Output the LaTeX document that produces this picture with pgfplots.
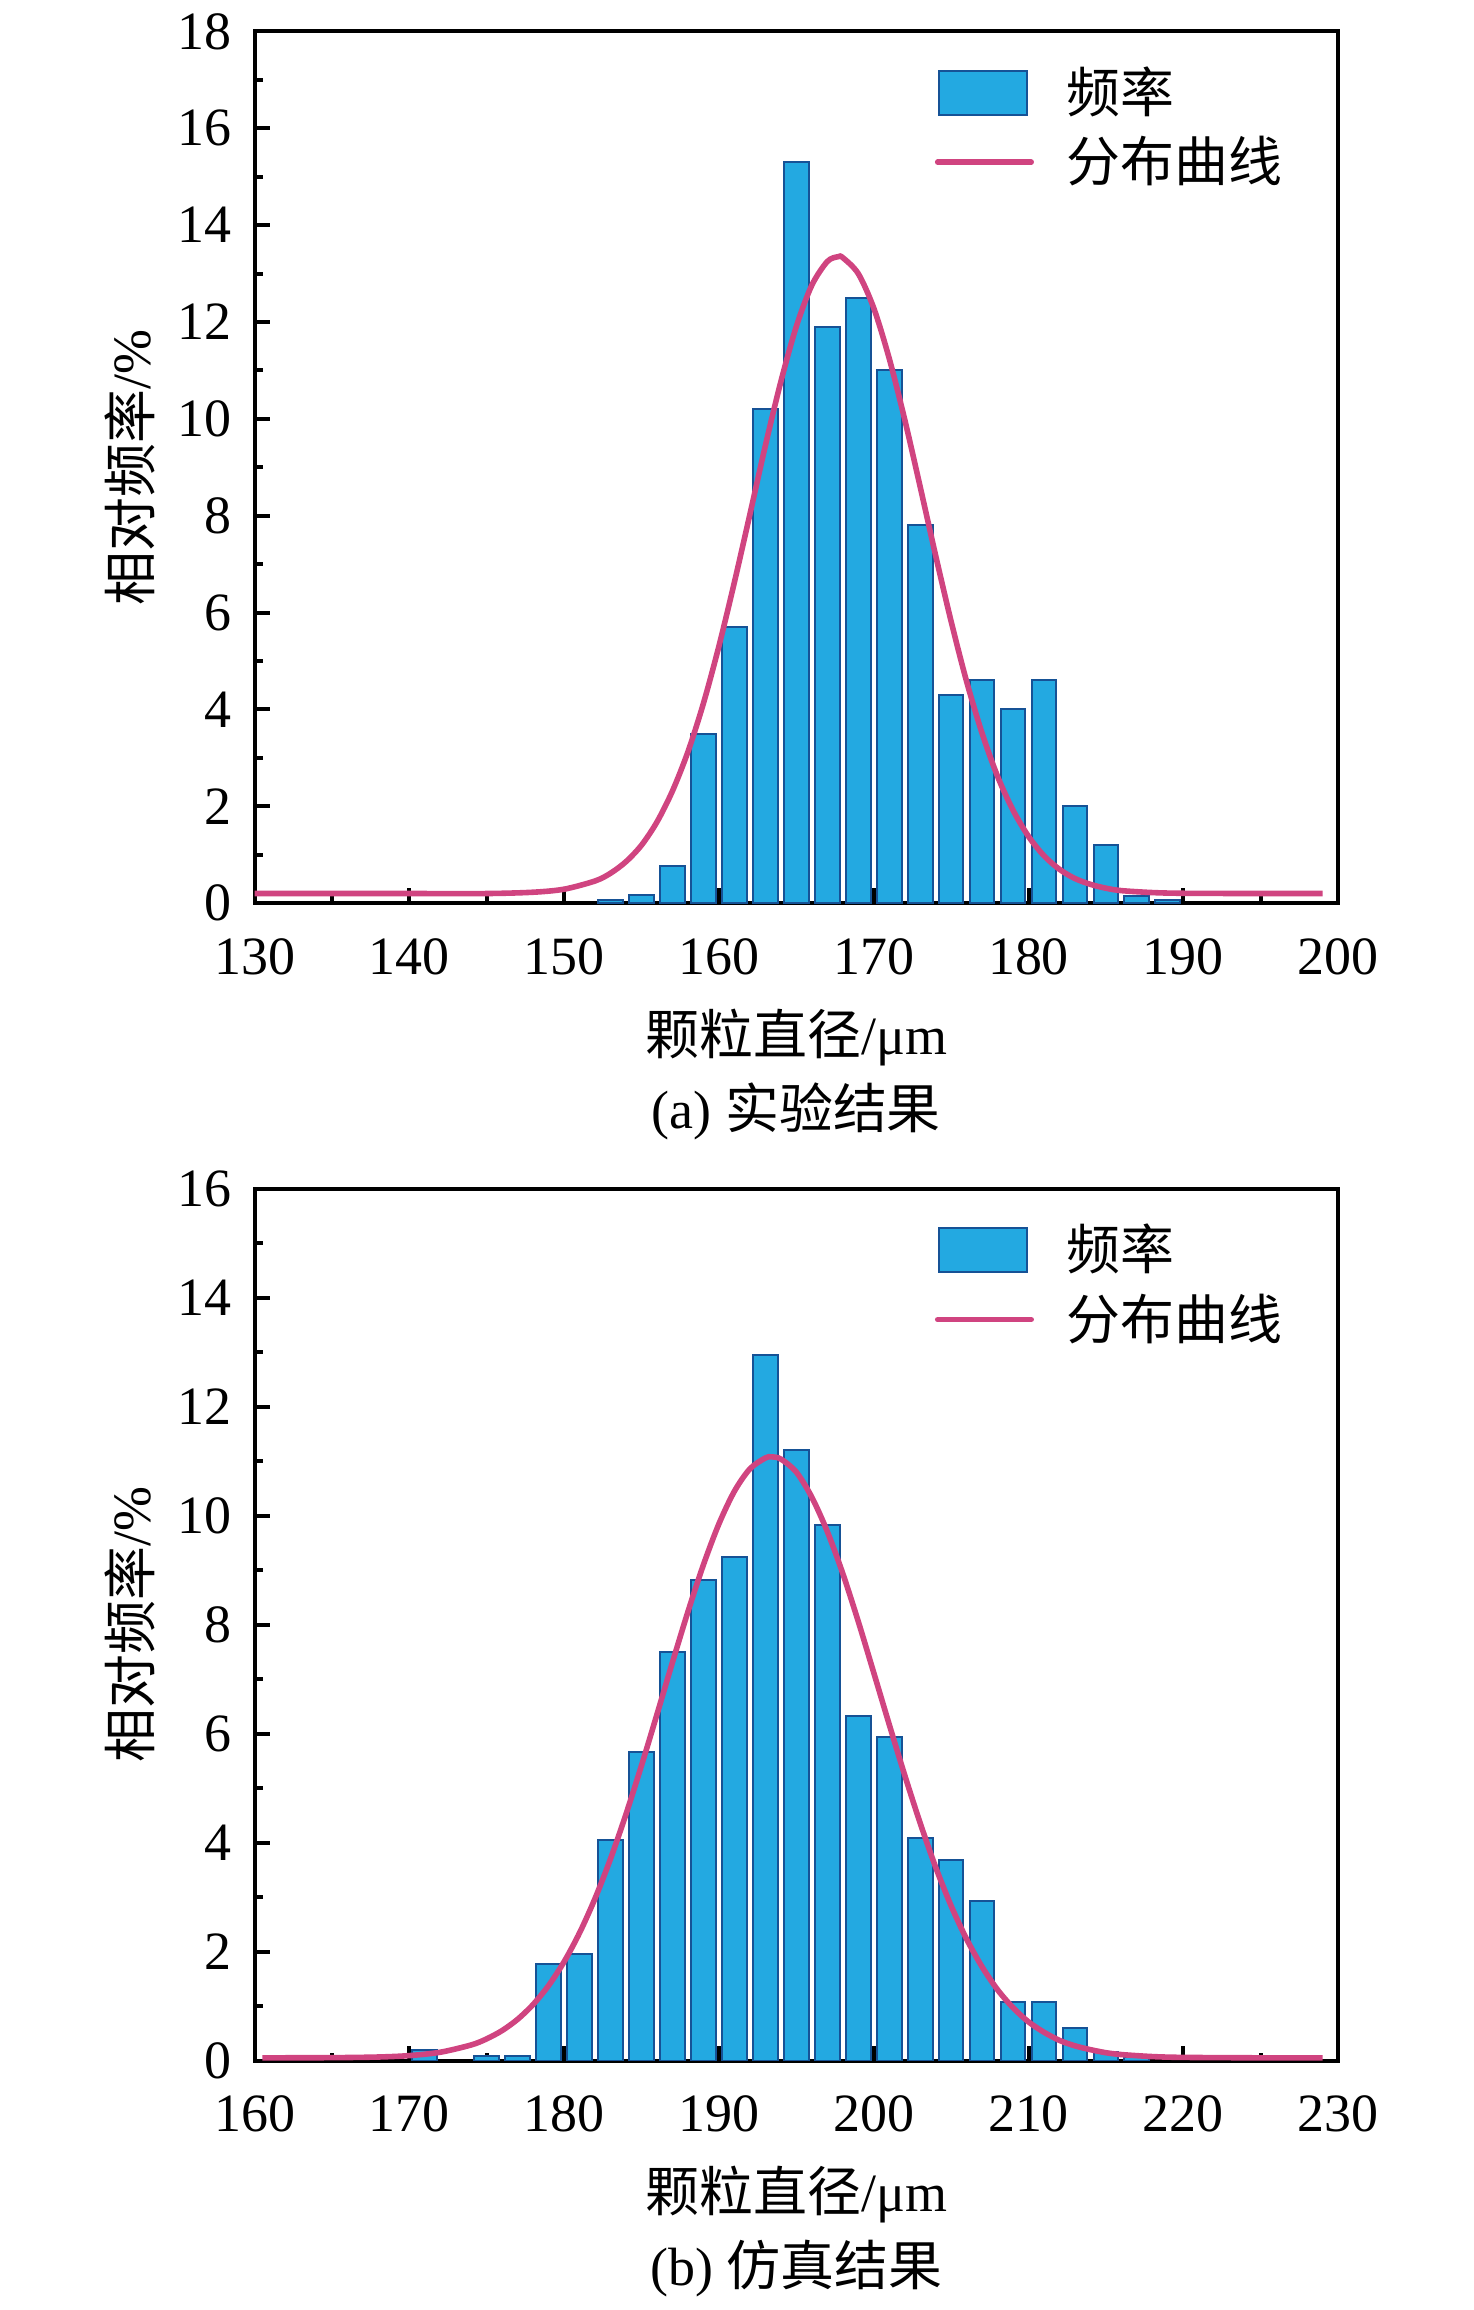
\documentclass[border=0pt]{standalone}
\usepackage{fontspec}
\setmainfont{Liberation Serif}
\newfontfamily\cjk{Noto Sans CJK SC}
\usepackage{pgfplots}
\pgfplotsset{compat=1.18}
\definecolor{barfill}{RGB}{35,169,225}
\definecolor{baredge}{RGB}{22,82,150}
\definecolor{curvecol}{RGB}{208,68,128}
\newcommand{\fs}{\fontsize{13.5}{16}\selectfont}
\pgfplotsset{
  histo/.style={
    scale only axis, width=271.25pt, height=218.25pt,
    line width=1pt,
    minor x tick num=1, minor y tick num=1,
    tick align=inside, xtick pos=left, ytick pos=left,
    major tick length=3.75pt, minor tick length=2pt,
    every tick/.append style={black, line width=1pt},
    /pgf/number format/assume math mode=true,
    tick label style={font=\fs},
    xticklabel style={yshift=-5pt},
    yticklabel style={xshift=-2pt},
    ylabel={{\cjk 相对频率}/\%},
    ylabel style={at={(axis description cs:-0.115,0.5)}, anchor=center, font=\fs},
    legend style={at={(axis description cs:0.615,0.98)}, anchor=north west, draw=none, fill=none, font=\fs, row sep=0.5pt},
    legend cell align=left,
  },
  barleg/.style={legend image code/.code={\draw[fill=barfill,draw=baredge,line width=0.5pt] (-4.8pt,-5.5pt) rectangle (17.2pt,5.5pt); \path (24.4pt,0pt);}},
  lineleg/.style={legend image code/.code={\draw[curvecol,line width=1.4pt,line cap=round] (-5.2pt,0pt) -- (18.2pt,0pt); \path (24.4pt,0pt);}},
}
\begin{document}
\begin{tikzpicture}[font=\fs]
\path (-63.75pt,-62pt) rectangle (305.25pt,515.5pt);
% ---------- (a) ----------
\begin{axis}[histo, at={(0pt,289.75pt)}, anchor=south west,
  xmin=130, xmax=200, ymin=0, ymax=18,
  xtick={130,140,...,200}, ytick={0,2,...,18}]
\addplot[ybar, bar width=1.6, bar shift=0pt, fill=barfill, draw=baredge, line width=0.5pt, barleg] coordinates {
(153,0.07) (155,0.16) (157,0.76) (159,3.5) (161,5.7) (163,10.2) (165,15.3) (167,11.9) (169,12.5) (171,11.0)
(173,7.8) (175,4.3) (177,4.6) (179,4.0) (181,4.6) (183,2.0) (185,1.2) (187,0.14) (189,0.07)};
\addlegendentry{{\cjk 频率}}
\addplot[curvecol, line width=1.4pt, smooth, lineleg] coordinates {
(130,0.2) (140,0.2) (145,0.2) (148,0.227) (150,0.29) (152,0.46) (153,0.62) (154,0.86) (155,1.20) (156,1.68)
(157,2.32) (158,3.13) (159,4.13) (160,5.31) (161,6.63) (162,8.03) (163,9.45) (164,10.77) (165,11.91) (166,12.76)
(167,13.25) (167.7,13.35) (168,13.33) (169,13.00) (170,12.29) (171,11.25) (172,9.99) (173,8.60) (174,7.18) (175,5.82)
(176,4.58) (177,3.51) (178,2.62) (179,1.92) (180,1.38) (181,0.98) (182,0.70) (183,0.51) (184,0.39) (185,0.31)
(186,0.26) (188,0.22) (190,0.205) (195,0.2) (199,0.2)};
\addlegendentry{{\cjk 分布曲线}}
\end{axis}
\node at (135.625pt,256pt) {{\cjk 颗粒直径}/μm};
\node at (135.625pt,237.75pt) {(a) {\cjk 实验结果}};
% ---------- (b) ----------
\begin{axis}[histo, at={(0pt,0pt)}, anchor=south west,
  xmin=160, xmax=230, ymin=0, ymax=16,
  xtick={160,170,...,230}, ytick={0,2,...,16}]
\addplot[ybar, bar width=1.6, bar shift=0pt, fill=barfill, draw=baredge, line width=0.5pt, barleg] coordinates {
(171,0.2) (175,0.08) (177,0.08) (179,1.77) (181,1.96) (183,4.05) (185,5.66) (187,7.5) (189,8.82) (191,9.25)
(193,12.95) (195,11.2) (197,9.83) (199,6.32) (201,5.93) (203,4.09) (205,3.68) (207,2.93) (209,1.07) (211,1.07)
(213,0.6) (215,0.15) (217,0.07)};
\addlegendentry{{\cjk 频率}}
\addplot[curvecol, line width=1.4pt, smooth, lineleg] coordinates {
(160.5,0.05) (165,0.053) (168,0.065) (170,0.091) (172,0.153) (174,0.287) (175,0.399) (176,0.552) (177,0.759) (178,1.031)
(179,1.379) (180,1.816) (181,2.347) (182,2.979) (183,3.707) (184,4.527) (185,5.419) (186,6.358) (187,7.312) (188,8.241)
(189,9.102) (190,9.852) (191,10.45) (192,10.86) (193,11.06) (193.4,11.08) (194,11.04) (195,10.80) (196,10.34) (197,9.71)
(198,8.94) (199,8.06) (200,7.12) (201,6.17) (202,5.24) (203,4.36) (204,3.55) (205,2.84) (206,2.23) (207,1.72)
(208,1.30) (209,0.97) (210,0.71) (211,0.52) (212,0.37) (213,0.27) (214,0.20) (215,0.144) (216,0.110) (218,0.073)
(220,0.058) (225,0.05) (229,0.05)};
\addlegendentry{{\cjk 分布曲线}}
\end{axis}
\node at (135.625pt,-33.5pt) {{\cjk 颗粒直径}/μm};
\node at (135.625pt,-52pt) {(b) {\cjk 仿真结果}};
\end{tikzpicture}
\end{document}
